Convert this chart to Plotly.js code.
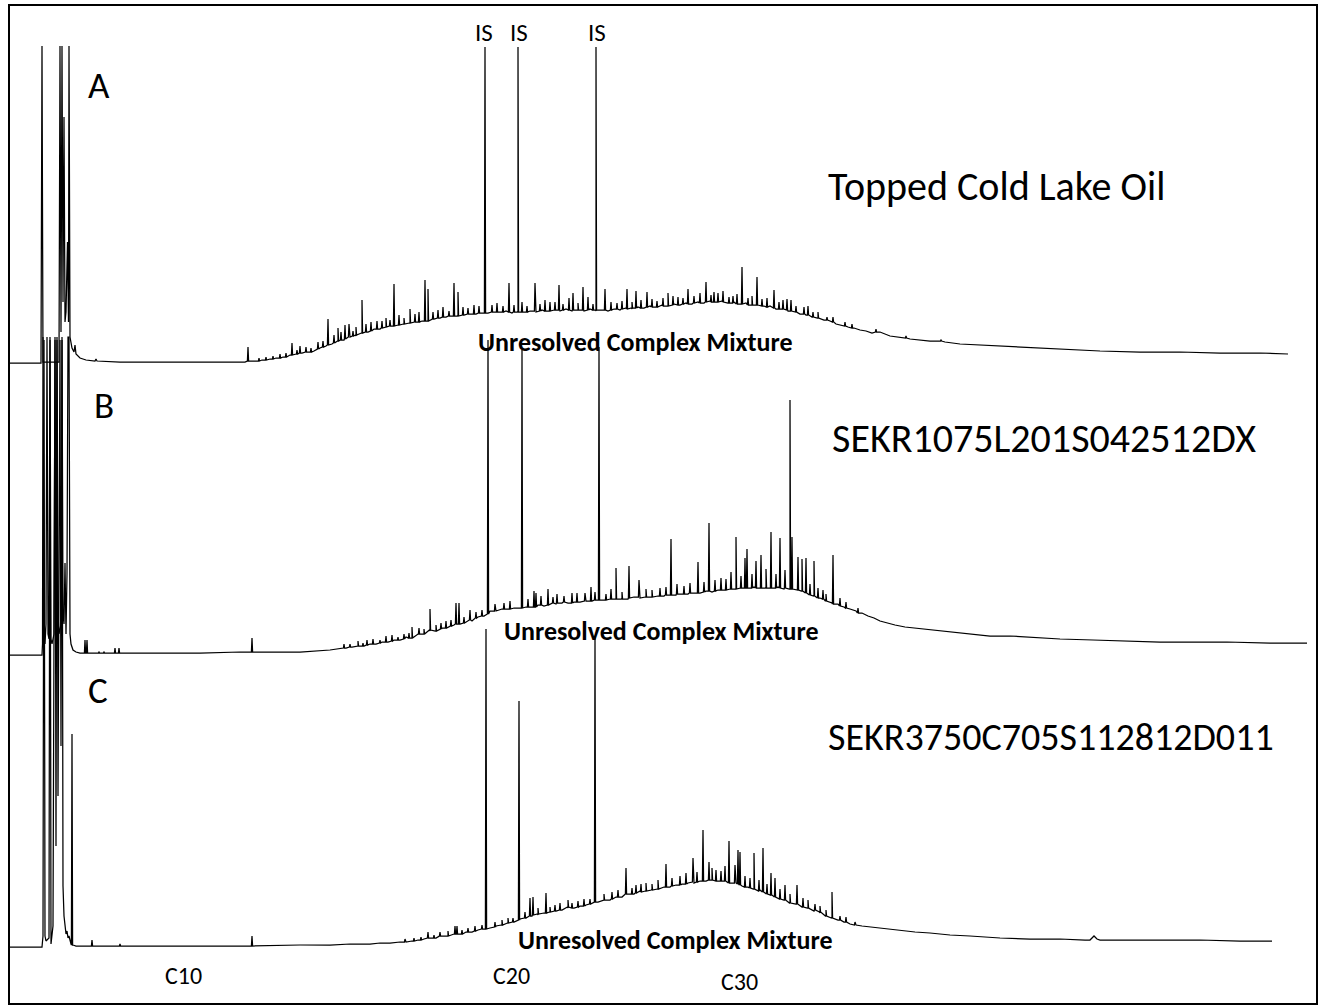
<!DOCTYPE html>
<html>
<head>
<meta charset="utf-8">
<script src="https://cdn.plot.ly/plotly-3.0.1.min.js"></script>
<style>html,body{margin:0;padding:0;background:#fff;}#chart{width:1324px;height:1008px;}</style>
</head>
<body>
<div id="chart"></div>
<script>
// ---------- DATA (retention position, detector response above each trace's baseline) ----------
const sampleNames = ["Topped Cold Lake Oil", "SEKR1075L201S042512DX", "SEKR3750C705S112812D011"];
const panelLetters = ["A", "B", "C"];
const carbonLabels = ["C10", "C20", "C30"];
const carbonRT = [183, 511, 739];
const isRT = [484, 519, 597];
const ucmLabel = "Unresolved Complex Mixture";

// Trace A – hump / baseline [rt, response]
const humpA = [[10,-1],[40,-1],[41,-1],[42,316],[43,0],[59,0],[60,316],[61,30],[62,316],[63,60],[64,245],[65,40],[66,50],[67.5,120],[68.5,40],[69,316],[70,25],[72,14],[74,10],[75,17],[76,8],[80,4],[86,2],[95,1],[96,3],[97,1],[120,0],[160,0],[200,0],[245,0],
[255,1],[262,2],[270,3],[276,4],[283,5],[290,7],[296,8],[302,9],[308,10],[314,11],[320,14],[326,16],[332,18],[338,21],[344,22],[350,25],[356,26],[362,29],[368,30],[374,33],[380,33],[386,35],[392,36],[398,37],[404,38],[410,39],[416,40],[422,41],[428,41],[434,43],[440,44],[446,45],[452,46],[458,47],[464,47],[470,48],[476,48],[482,49],[488,49],[494,50],[500,50],[506,51],[512,49],[518,51],[524,50],[530,51],[536,50],[542,52],[548,51],[554,52],[560,51],[566,53],[572,51],[578,52],[584,51],[590,53],[596,51],[602,52],[608,51],[614,53],[620,52],[626,54],[632,53],[638,55],[644,54],[650,56],[656,55],[662,57],[668,56],[674,58],[680,57],[686,59],[692,58],[698,60],[704,59],[710,61],[716,60],[722,61],[728,59],[734,60],[740,58],[746,59],[752,57],[758,57],[764,56],[770,56],[776,53],[782,53],[788,51],[794,50],[800,48],[806,47],[812,45],[818,44],[824,42],[830,41],[836,38],[842,37],[848,35],[854,34],[860,32],[866,31],[872,29],[880,30],[890,26],[900,25],[910,23],[920,22],[930,21],[945,20],[960,18],[980,17],[1000,16],[1020,15],[1040,14],[1070,12],[1100,11],[1140,10],[1180,10],[1220,9],[1260,9],[1288,8]];
// Trace A – resolved peaks [rt, base, apex]
const peaksA = [[248,1,15],[292,7,19],[328,17,43],[338,21,34],[345,23,37],[349,25,38],[362,29,62],[377,33,41],[382,34,41],[394,36,78],[410,39,53],[425,41,82],[428,41,73],[454,46,79],[458,46,70],[485,49,315],[509,50,79],[518,50,315],[535,51,79],[545,51,62],[555,52,60],[559,52,77],[569,52,64],[573,52,69],[583,52,75],[588,52,65],[596,52,315],[605,52,73],[627,53,73],[636,54,71],[647,55,70],[668,56,69],[688,58,73],[706,60,80],[718,60,69],[723,60,71],[729,59,65],[742,58,95],[757,57,85],[774,54,72],[787,52,63],[791,51,62],[804,48,55],[808,47,56],[827,42,45],[876,30,33],[906,24,26],[941,21,22]];
// Trace A – minor (unresolved "grass") peaks [rt, base, apex]
const minorA = [[259,1,4],[266,2,5],[273,3,6],[280,4,8],[286,5,9],[297,8,12],[300,9,16],[306,10,15],[311,10,14],[318,13,20],[323,15,21],[334,19,27],[341,22,30],[353,26,31],[356,27,35],[366,30,38],[371,31,40],[386,35,44],[390,36,42],[399,37,47],[404,38,44],[415,40,48],[419,40,50],[433,43,50],[438,44,52],[443,45,55],[449,46,51],[463,47,55],[468,48,54],[474,48,57],[479,49,56],[492,50,57],[497,50,59],[503,50,56],[514,50,57],[522,50,60],[527,50,56],[540,51,58],[550,51,60],[563,52,58],[578,52,59],[593,52,58],[611,52,60],[617,53,59],[622,53,61],[632,54,60],[641,54,62],[652,55,63],[657,55,61],[663,56,64],[673,57,66],[678,57,65],[683,58,64],[694,59,66],[700,59,69],[711,60,67],[714,60,70],[733,59,66],[737,58,68],[748,57,64],[752,57,66],[762,56,63],[767,55,64],[779,53,60],[783,53,62],[796,50,56],[813,45,50],[818,44,50],[833,40,45],[845,36,40],[852,34,38]];

// Trace B
const humpB = [[10,-1],[42,-1],[42.5,10],[43,317],[44,40],[45,10],[46,30],[47,317],[48,20],[49,15],[50,317],[51,15],[52,10],[54,20],[55,317],[56,60],[57,317],[58,40],[59,20],[61,30],[62,317],[63,40],[64,30],[65,91],[66,20],[67,80],[68,317],[69,317],[70,20],[71,10],[73,4],[76,2],[80,1],[120,1],[160,1],[200,1],[240,2],[280,2],[300,2],[330,4],
[340,5],[346,6],[352,7],[358,8],[364,8],[370,10],[376,10],[382,12],[388,12],[394,14],[400,14],[406,17],[412,16],[418,20],[424,20],[430,23],[436,23],[442,26],[448,27],[454,29],[460,30],[466,32],[472,33],[478,37],[484,38],[490,43],[496,43],[502,45],[508,45],[514,46],[520,46],[526,47],[532,47],[538,49],[544,48],[550,50],[556,50],[562,51],[568,51],[574,52],[580,52],[586,53],[592,53],[598,54],[604,54],[610,55],[616,55],[622,56],[628,55],[634,57],[640,56],[646,57],[652,57],[658,58],[664,58],[670,59],[676,59],[682,60],[688,60],[694,61],[700,61],[706,63],[712,62],[718,64],[724,64],[730,65],[736,65],[742,66],[748,66],[754,67],[760,66],[766,67],[772,66],[778,67],[784,65],[790,65],[796,64],[802,63],[808,60],[814,59],[820,56],[826,55],[832,51],[838,50],[844,47],[850,45],[856,43],[862,41],[868,38],[874,36],[880,33],[887,31],[895,29],[905,27],[915,26],[927,25],[945,23],[960,21],[975,20],[990,18],[1010,18],[1027,17],[1060,15],[1093,14],[1130,13],[1160,12],[1190,12],[1227,12],[1270,11],[1307,11]];
const peaksB = [[85,1,14],[87,1,14],[99,1,2],[104,1,2],[115,1,6],[119,1,6],[252,2,16],[412,16,27],[430,24,45],[456,30,51],[459,30,51],[470,34,44],[488,40,314],[522,46,304],[534,47,63],[536,47,61],[548,49,65],[572,51,61],[577,52,61],[591,53,67],[599,54,307],[616,55,86],[629,56,88],[639,57,74],[671,59,115],[698,61,92],[709,63,131],[721,64,76],[736,65,117],[745,66,96],[747,66,105],[756,66,93],[761,66,99],[771,66,122],[780,66,116],[790,65,254],[792,65,117],[798,64,97],[802,63,95],[806,61,96],[814,58,93],[823,55,64],[833,50,99]];
const minorB = [[344,6,10],[350,7,10],[358,8,13],[363,8,11],[367,9,14],[373,10,15],[380,11,14],[386,12,18],[392,13,19],[398,14,17],[404,15,20],[409,16,21],[419,20,26],[424,20,25],[436,23,29],[441,25,31],[446,26,33],[451,28,34],[464,31,37],[476,36,42],[482,38,44],[495,43,50],[504,45,51],[510,45,53],[528,47,55],[541,49,58],[553,51,57],[557,51,60],[564,52,58],[585,53,61],[595,54,62],[606,54,60],[611,55,65],[622,55,62],[646,57,65],[652,57,64],[660,58,66],[666,59,67],[677,60,70],[684,60,68],[690,61,71],[704,62,72],[715,63,74],[726,64,75],[731,65,82],[741,66,78],[752,66,80],[766,66,85],[776,66,80],[785,66,84],[810,59,70],[818,56,66],[826,53,60],[840,48,56],[846,46,52],[858,41,46]];

// Trace C
const humpC = [[10,-1],[42,-1],[43,10],[44,606],[45,10],[46,5],[49,8],[50,606],[51,2],[53,20],[55,606],[56,100],[57,606],[58,150],[60,606],[61,200],[62,606],[63,60],[64,30],[65,18],[66,12],[67,15],[68,8],[69,10],[70,4],[71,2],[73,1],[76,0],[100,0],[150,0],[200,0],[250,0],[300,1],[330,1],[350,2],[370,2],[380,3],[390,3],
[400,4],[406,4],[412,5],[418,6],[424,7],[430,8],[436,8],[442,10],[448,10],[454,12],[460,12],[466,14],[472,14],[478,16],[484,17],[490,18],[496,20],[502,21],[508,23],[514,24],[520,27],[526,28],[532,30],[538,31],[544,33],[550,34],[556,35],[562,36],[568,38],[574,38],[580,40],[586,41],[592,43],[598,44],[604,46],[610,46],[616,49],[622,49],[628,52],[634,52],[640,55],[646,55],[652,57],[658,57],[664,59],[670,59],[676,61],[682,62],[688,63],[694,63],[700,65],[706,65],[712,66],[718,65],[724,65],[730,63],[736,63],[742,60],[748,59],[754,57],[760,56],[766,52],[772,51],[778,48],[784,46],[790,44],[796,42],[802,39],[808,38],[814,35],[820,33],[826,31],[832,29],[838,26],[844,24],[850,22],[856,21],[862,20],[870,19],[880,18],[890,17],[900,16],[915,14],[930,13],[950,11],[970,10],[1000,8],[1030,7],[1060,7],[1085,6],[1090,6],[1094,10],[1097,7],[1100,6],[1150,6],[1200,6],[1240,5],[1272,5]];
const peaksC = [[72,1,212],[92,0,6],[120,0,2],[252,0,10],[428,8,14],[455,12,20],[457,12,20],[486,17,317],[519,26,245],[530,30,48],[533,31,49],[546,33,53],[568,39,46],[595,44,310],[626,52,78],[636,53,61],[666,59,82],[693,64,88],[703,65,116],[709,66,84],[716,65,76],[729,63,105],[735,63,81],[738,62,96],[740,61,94],[754,57,93],[763,54,98],[771,51,73],[775,49,68],[785,46,61],[797,42,61],[826,30,36],[832,28,54]];
const minorC = [[405,4,7],[414,5,8],[421,6,9],[434,8,11],[440,10,14],[448,10,15],[462,12,16],[468,14,18],[475,15,20],[482,17,21],[495,19,24],[502,21,26],[508,23,28],[513,24,28],[525,28,34],[538,32,38],[550,34,39],[555,35,41],[560,36,43],[572,38,43],[578,39,45],[584,40,47],[590,42,47],[604,46,52],[612,47,54],[618,49,56],[632,52,58],[641,54,62],[646,55,63],[652,56,62],[658,57,66],[672,60,68],[680,61,70],[686,62,73],[697,64,74],[712,66,78],[721,65,75],[725,65,80],[745,59,70],[750,58,68],[759,55,66],[767,52,62],[780,47,57],[790,43,52],[803,39,48],[808,38,46],[815,36,42],[820,34,40],[840,26,30],[846,24,29],[855,21,24]];

// ---------- LAYOUT CONSTANTS ----------
const W = 1324, H = 1008;
const offsets = [646, 354, 62];            // vertical stacking of the three chromatograms
const FONT = "Calibri, Carlito, 'Open Sans', sans-serif";

function build(hump, peaks, minor, off) {
  const pts = hump.map(p => [p[0], p[1]]);
  peaks.concat(minor).forEach(([x, b, t]) => { pts.push([x - 0.6, b], [x, t], [x + 0.6, b]); });
  pts.sort((a, b) => a[0] - b[0]);
  return {
    type: "scatter", mode: "lines",
    x: pts.map(p => p[0]), y: pts.map(p => p[1] + off),
    line: {color: "#000", width: 1.25}, hoverinfo: "skip", showlegend: false
  };
}

const traces = [
  build(humpA, peaksA, minorA, offsets[0]),
  build(humpB, peaksB, minorB, offsets[1]),
  build(humpC, peaksC, minorC, offsets[2])
];

const ann = [];
function txt(x, y, text, size, opts) {
  ann.push(Object.assign({x, y, xref: "x", yref: "y", text, showarrow: false,
    font: {family: FONT, size, color: "#000"}, xanchor: "center", yanchor: "middle"}, opts || {}));
}
// panel letters
const letterPos = [[99, 923], [104, 603], [98, 318]];
panelLetters.forEach((l, i) => txt(letterPos[i][0], letterPos[i][1], l, 37));
// sample names
const namePos = [[826, 822], [830, 570], [826, 271]];
const nameSize = [40, 40, 38];
sampleNames.forEach((n, i) => txt(namePos[i][0], namePos[i][1], n, nameSize[i], {xanchor: "left"}));
// UCM labels
const ucmPos = [[635, 666], [661, 377], [675, 68]];
ucmPos.forEach(p => txt(p[0], p[1], "<b>" + ucmLabel + "</b>", 26));
// IS labels
isRT.forEach(x => txt(x, 976, "IS", 25));
// carbon number markers
const carbonY = [33, 33, 27];
carbonLabels.forEach((c, i) => txt(carbonRT[i], carbonY[i], c, 24));

const layout = {
  width: W, height: H,
  margin: {l: 0, r: 0, t: 0, b: 0, pad: 0},
  paper_bgcolor: "#fff", plot_bgcolor: "#fff",
  xaxis: {range: [0, W], visible: false, fixedrange: true},
  yaxis: {range: [0, H], visible: false, fixedrange: true},
  showlegend: false,
  annotations: ann,
  shapes: [{type: "rect", xref: "paper", yref: "paper",
    x0: 9 / W, x1: 1317 / W, y0: (H - 1004) / H, y1: (H - 5) / H,
    line: {color: "#000", width: 2}, fillcolor: "rgba(0,0,0,0)"}]
};

Plotly.newPlot("chart", traces, layout, {staticPlot: true, displayModeBar: false});
</script>
</body>
</html>
